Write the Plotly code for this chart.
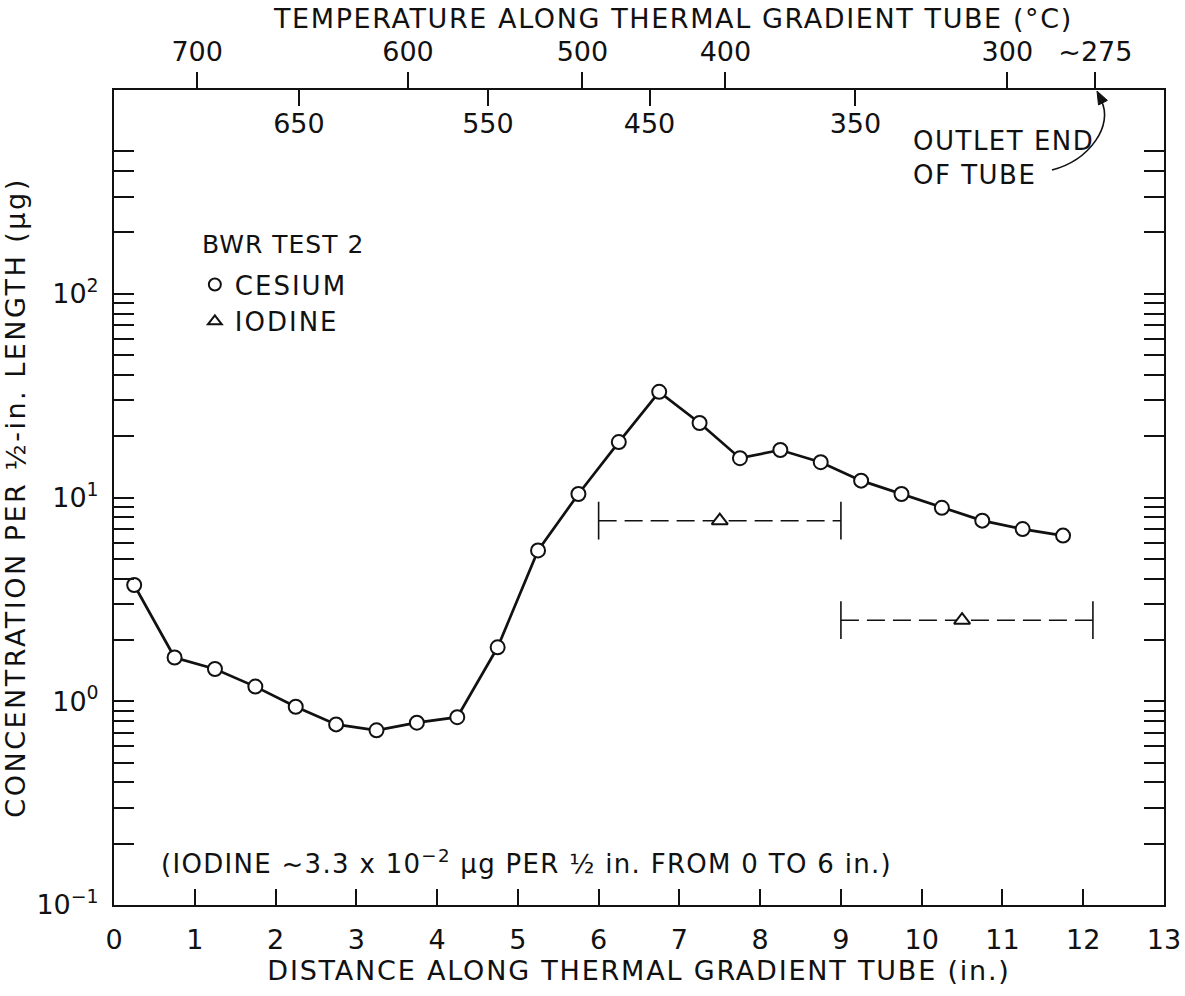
import plotly.graph_objects as go

# ---------------- data ----------------
distance_in = [0.25, 0.75, 1.25, 1.75, 2.25, 2.75, 3.25, 3.75, 4.25, 4.75, 5.25, 5.75,
               6.25, 6.75, 7.25, 7.75, 8.25, 8.75, 9.25, 9.75, 10.25, 10.75, 11.25, 11.75]
cesium_ug = [3.72, 1.64, 1.44, 1.18, 0.94, 0.77, 0.72, 0.785, 0.835, 1.84, 5.5, 10.4,
             18.7, 33.0, 23.2, 15.6, 17.1, 14.9, 12.1, 10.4, 8.9, 7.7, 7.0, 6.5]

iodine_center_in = [7.5, 10.5]
iodine_ug = [7.7, 2.5]
iodine_from_in = [6.0, 9.0]
iodine_to_in = [9.0, 12.12]

x_tick_in = list(range(0, 14))
x_tick_labels = [str(v) for v in x_tick_in]

temp_major_pos_in = [1.03, 3.64, 5.80, 7.57, 11.06, 12.15]
temp_major_labels = ["700", "600", "500", "400", "300", "~275"]
temp_minor_pos_in = [2.29, 4.63, 6.63, 9.18]
temp_minor_labels = ["650", "550", "450", "350"]

decade_exponents = [-1, 0, 1, 2, 3]
decade_labels = ["10<sup>−1</sup>", "10<sup>0</sup>", "10<sup>1</sup>", "10<sup>2</sup>", "10<sup>3</sup>"]
minor_multipliers = [2, 3, 4, 5, 6, 7, 8, 9]

# ---------------- styling ----------------
FONT = "DejaVu Sans"
BLACK = "#111111"
TICK_SIZE = 27
TITLE_SIZE = 27


def spaced(text, px):
    return f'<span style="letter-spacing:{px}px">{text}</span>'


y_major = [10.0 ** e for e in decade_exponents]
y_minor = [m * 10.0 ** e for e in decade_exponents[:-1] for m in minor_multipliers]

fig = go.Figure()

# cesium curve
fig.add_trace(go.Scatter(
    x=distance_in, y=cesium_ug, mode="lines+markers", showlegend=False,
    line=dict(color=BLACK, width=2.7),
    marker=dict(symbol="circle", size=14, color="white", line=dict(color=BLACK, width=2)),
))

# iodine ranges (dashed with end caps) and points
for lo, hi, v in zip(iodine_from_in, iodine_to_in, iodine_ug):
    fig.add_trace(go.Scatter(
        x=[lo, hi], y=[v, v], mode="lines+markers", showlegend=False,
        line=dict(color=BLACK, width=1.5, dash="18px,8px"),
        marker=dict(symbol="line-ns", size=27, line=dict(color=BLACK, width=1.6)),
    ))
fig.add_trace(go.Scatter(
    x=iodine_center_in, y=iodine_ug, mode="markers", showlegend=False,
    marker=dict(symbol="triangle-up", size=14, color="white", line=dict(color=BLACK, width=2)),
))

# legend-only entries
fig.add_trace(go.Scatter(x=[None], y=[None], mode="markers", name=spaced("CESIUM", 2),
                         marker=dict(symbol="circle-open", size=12, color=BLACK, line=dict(width=2))))
fig.add_trace(go.Scatter(x=[None], y=[None], mode="markers", name=spaced("IODINE", 2),
                         marker=dict(symbol="triangle-up-open", size=12, color=BLACK, line=dict(width=2))))

# invisible traces so the temperature axes are drawn
fig.add_trace(go.Scatter(x=temp_major_pos_in, y=[None] * len(temp_major_pos_in), xaxis="x2",
                         mode="markers", showlegend=False, hoverinfo="skip"))
fig.add_trace(go.Scatter(x=temp_minor_pos_in, y=[None] * len(temp_minor_pos_in), xaxis="x3",
                         mode="markers", showlegend=False, hoverinfo="skip"))

tickfont = dict(family=FONT, size=TICK_SIZE, color=BLACK)

fig.update_layout(
    width=1185, height=996,
    margin=dict(l=114, r=21, t=90, b=91),
    paper_bgcolor="white", plot_bgcolor="white",
    font=dict(family=FONT, color=BLACK),
    xaxis=dict(
        range=[0, 13], tickvals=x_tick_in, ticktext=x_tick_labels, automargin=False,
        ticks="inside", ticklen=16, tickwidth=1.6, tickcolor=BLACK,
        ticklabelstandoff=10,
        showline=True, linecolor=BLACK, linewidth=2, mirror=True,
        showgrid=False, zeroline=False, tickfont=tickfont,
        title=dict(text=spaced("DISTANCE ALONG THERMAL GRADIENT TUBE (in.)", 1.8),
                   font=dict(family=FONT, size=TITLE_SIZE, color=BLACK), standoff=6),
    ),
    xaxis2=dict(
        overlaying="x", side="top", anchor="y", range=[0, 13], automargin=False,
        tickvals=temp_major_pos_in, ticktext=temp_major_labels,
        ticks="outside", ticklen=17, tickwidth=1.6, tickcolor=BLACK,
        showline=False, showgrid=False, zeroline=False, tickfont=tickfont,
    ),
    xaxis3=dict(
        overlaying="x", side="top", anchor="y", range=[0, 13], automargin=False,
        tickvals=temp_minor_pos_in, ticktext=temp_minor_labels,
        ticks="inside", ticklen=16, tickwidth=1.6, tickcolor=BLACK,
        ticklabelposition="inside", ticklabelstandoff=11,
        showline=False, showgrid=False, zeroline=False, tickfont=tickfont,
    ),
    yaxis=dict(
        type="log", range=[-1, 3], tickvals=y_major, ticktext=decade_labels, automargin=False,
        ticks="inside", ticklen=20, tickwidth=1.6, tickcolor=BLACK,
        ticklabelstandoff=8,
        minor=dict(tickvals=y_minor, ticks="inside", ticklen=20, tickwidth=1.6,
                   tickcolor=BLACK, showgrid=False),
        showline=True, linecolor=BLACK, linewidth=2, mirror="ticks",
        showgrid=False, zeroline=False, tickfont=tickfont,
        title=dict(text=spaced("CONCENTRATION PER ½-in. LENGTH (μg)", 2.5),
                   font=dict(family=FONT, size=TITLE_SIZE, color=BLACK), standoff=3),
    ),
    legend=dict(
        x=0.077, y=0.79, xanchor="left", yanchor="top",
        bgcolor="rgba(0,0,0,0)", borderwidth=0,
        font=dict(family=FONT, size=26, color=BLACK),
        itemwidth=30,
    ),
    showlegend=True,
)

# top axis title
fig.add_annotation(
    xref="paper", yref="paper", x=0.532, y=1.088, xanchor="center", yanchor="middle",
    text=spaced("TEMPERATURE ALONG THERMAL GRADIENT TUBE (°C)", 1.6),
    showarrow=False, font=dict(family=FONT, size=TITLE_SIZE, color=BLACK),
)
# legend heading
fig.add_annotation(
    xref="paper", yref="paper", x=0.082, y=0.81, xanchor="left", yanchor="middle",
    text=spaced("BWR TEST 2", 1), showarrow=False,
    font=dict(family=FONT, size=25, color=BLACK),
)
# notes
fig.add_annotation(
    xref="paper", yref="paper", x=0.043, y=0.053, xanchor="left", yanchor="middle",
    text=spaced("(IODINE ~3.3 x 10<sup>−2</sup> μg PER ½ in. FROM 0 TO 6 in.)", 1.3),
    showarrow=False, font=dict(family=FONT, size=26, color=BLACK),
)
fig.add_annotation(
    xref="paper", yref="paper", x=0.759, y=0.917, xanchor="left", yanchor="middle",
    text=spaced("OUTLET END<br>OF TUBE", 1.5), align="left",
    showarrow=False, font=dict(family=FONT, size=26, color=BLACK),
)
# curved pointer to the outlet end, with a filled arrowhead
fig.add_shape(
    type="path", xref="paper", yref="paper",
    path="M 0.8933,0.9018 C 0.9295,0.9141 0.9524,0.9571 0.9400,0.9877",
    line=dict(color=BLACK, width=1.6),
)
fig.add_shape(
    type="path", xref="paper", yref="paper",
    path="M 0.93619,0.99877 L 0.94610,0.98725 L 0.93762,0.98160 Z",
    line=dict(color=BLACK, width=1), fillcolor=BLACK,
)

fig.write_html("out.html", post_script="document.body.style.margin='0';",
               config={"displayModeBar": False})
